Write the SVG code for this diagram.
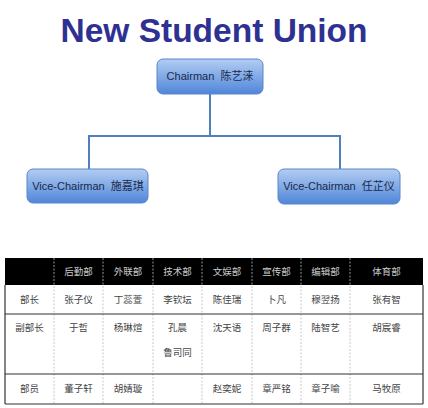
<svg xmlns="http://www.w3.org/2000/svg" width="428" height="408" viewBox="0 0 428 408">
<defs>
<linearGradient id="g" x1="0" y1="0" x2="0" y2="1">
<stop offset="0" stop-color="#b3cdf3"/>
<stop offset="1" stop-color="#4f86d9"/>
</linearGradient>
<style>
.box{fill:url(#g);stroke:#5a86c8;stroke-width:1}
.bt{font-family:"Liberation Sans","Noto Sans CJK SC",sans-serif;font-size:11px;fill:#1a2a4a;text-anchor:middle;white-space:pre}
.conn{fill:none;stroke:#4f7fbf;stroke-width:2}
.th{font-family:"Noto Sans CJK SC",sans-serif;font-size:9.5px;fill:#cccccc;text-anchor:middle}
.td{font-family:"Noto Sans CJK SC",sans-serif;font-size:9.5px;fill:#444444;text-anchor:middle}
.dash{stroke:#bbbbbb;stroke-width:0.8;stroke-dasharray:2 1.5}
.rule{stroke:#333333;stroke-width:1.2}
</style>
</defs>
<rect width="428" height="408" fill="#ffffff"/>
<text x="214" y="42" text-anchor="middle" font-family="Liberation Sans, Arial, sans-serif" font-weight="bold" font-size="33.5" fill="#2e3192">New Student Union</text>
<g id="connectors">
<path class="conn" d="M210 94 V136 M89 136 H340 M89 135 V169 M340 135 V169"/>
</g>
<g id="chairman">
<rect class="box" x="157" y="59" width="106" height="35" rx="6"/>
<text class="bt" x="210" y="80" xml:space="preserve">Chairman  陈艺涞</text>
</g>
<g id="vice1">
<rect class="box" x="27" y="169" width="121" height="34" rx="6"/>
<text class="bt" x="88" y="190" xml:space="preserve">Vice-Chairman  施嘉琪</text>
</g>
<g id="vice2">
<rect class="box" x="278" y="169" width="122" height="35" rx="6"/>
<text class="bt" x="339" y="190" xml:space="preserve">Vice-Chairman  任芷仪</text>
</g>
<g id="table">
<rect x="5" y="258" width="418" height="27" fill="#000000"/>
<line class="dash" x1="54" y1="258" x2="54" y2="404"/>
<line class="dash" x1="103" y1="258" x2="103" y2="404"/>
<line class="dash" x1="153" y1="258" x2="153" y2="404"/>
<line class="dash" x1="202" y1="258" x2="202" y2="404"/>
<line class="dash" x1="252" y1="258" x2="252" y2="404"/>
<line class="dash" x1="301" y1="258" x2="301" y2="404"/>
<line class="dash" x1="350" y1="258" x2="350" y2="404"/>
<line class="rule" x1="5" y1="314" x2="423" y2="314"/>
<line class="rule" x1="5" y1="374" x2="423" y2="374"/>
<line class="rule" x1="5" y1="404" x2="423" y2="404"/>
<line class="rule" x1="5" y1="285" x2="5" y2="404"/>
<line class="rule" x1="423" y1="285" x2="423" y2="404"/>
<text class="th" x="78.5" y="275">后勤部</text>
<text class="th" x="128" y="275">外联部</text>
<text class="th" x="177.5" y="275">技术部</text>
<text class="th" x="227" y="275">文娱部</text>
<text class="th" x="276.5" y="275">宣传部</text>
<text class="th" x="325.5" y="275">编辑部</text>
<text class="th" x="386.5" y="275">体育部</text>
<text class="td" x="29.5" y="303" fill="#222">部长</text>
<text class="td" x="78.5" y="303">张子仪</text>
<text class="td" x="128" y="303">丁蕊萱</text>
<text class="td" x="177.5" y="303">李钦坛</text>
<text class="td" x="227" y="303">陈佳瑞</text>
<text class="td" x="276.5" y="303">卜凡</text>
<text class="td" x="325.5" y="303">穆翌扬</text>
<text class="td" x="386.5" y="303">张有智</text>
<text class="td" x="29.5" y="331">副部长</text>
<text class="td" x="78.5" y="331">于哲</text>
<text class="td" x="128" y="331">杨琳煊</text>
<text class="td" x="177.5" y="331">孔晨</text>
<text class="td" x="177.5" y="356">鲁司同</text>
<text class="td" x="227" y="331">沈天语</text>
<text class="td" x="276.5" y="331">周子群</text>
<text class="td" x="325.5" y="331">陆智艺</text>
<text class="td" x="386.5" y="331">胡宸睿</text>
<text class="td" x="29.5" y="392">部员</text>
<text class="td" x="78.5" y="392">董子轩</text>
<text class="td" x="128" y="392">胡婧璇</text>
<text class="td" x="227" y="392">赵奕妮</text>
<text class="td" x="276.5" y="392">章严铭</text>
<text class="td" x="325.5" y="392">章子喻</text>
<text class="td" x="386.5" y="392">马牧原</text>
</g>
</svg>
